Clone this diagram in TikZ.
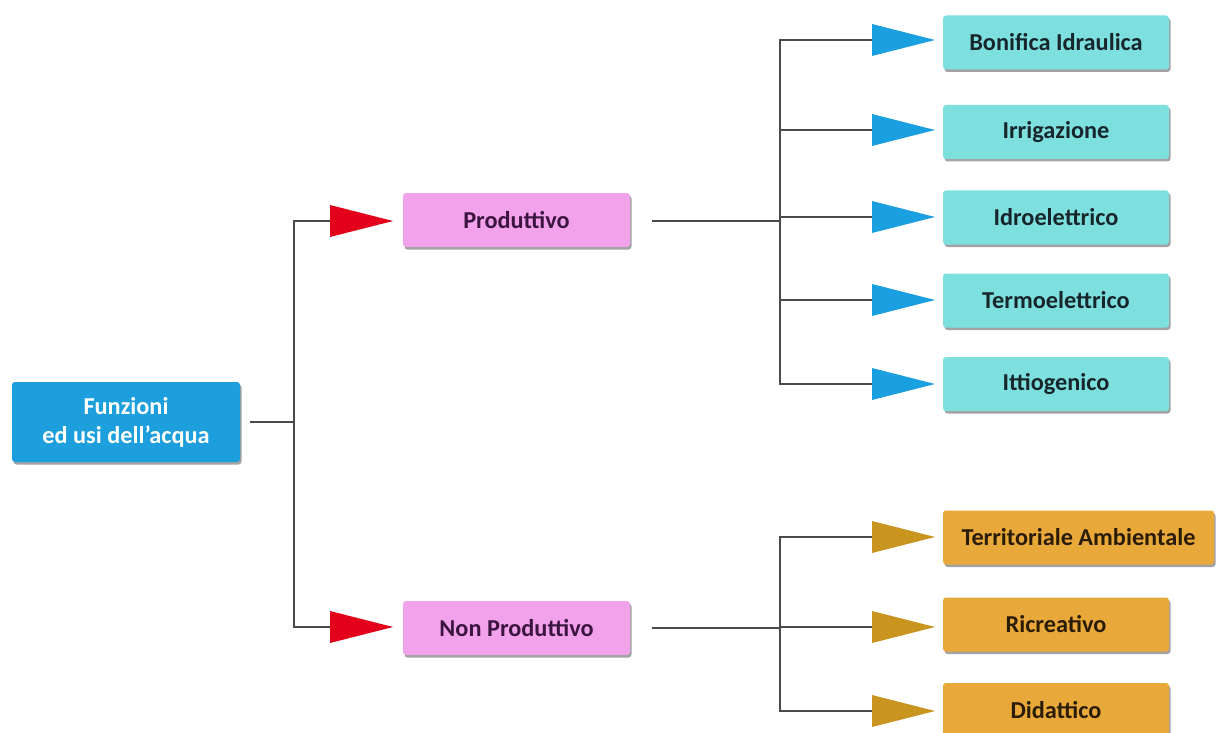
\documentclass[tikz,border=0pt]{standalone}
\usepackage{fontspec}
\setmainfont{Carlito}
\usetikzlibrary{shadows}
\definecolor{rootc}{HTML}{1C9FDC}
\definecolor{pinkc}{HTML}{F2A2EA}
\definecolor{cyanc}{HTML}{7EDFDF}
\definecolor{orangec}{HTML}{E9A93A}
\definecolor{redt}{HTML}{E2001A}
\definecolor{bluet}{HTML}{1A9FE0}
\definecolor{goldt}{HTML}{C9951F}
\definecolor{linec}{HTML}{4A4A4A}
\definecolor{pinktxt}{HTML}{3B1540}
\definecolor{cyantxt}{HTML}{17262B}
\definecolor{orangetxt}{HTML}{2B1C05}
\newcommand\mytri[2]{\fill[#1] (#2) ++(0,-16) -- ++(63,16) -- ++(-63,16) -- cycle;}
\begin{document}
\begin{tikzpicture}[x=1pt,y=-1pt,
  box/.style={rounded corners=3pt, inner sep=0pt, align=center,
    font=\fontsize{24.3}{29}\selectfont\bfseries,
    drop shadow={shadow xshift=1.5pt, shadow yshift=-2.5pt, fill=black!45, opacity=0.8}},
  rootbox/.style={box, fill=rootc, text=white, minimum width=228pt, minimum height=80pt},
  pinkbox/.style={box, fill=pinkc, text=pinktxt, minimum width=227pt, minimum height=54pt},
  cyanbox/.style={box, fill=cyanc, text=cyantxt, minimum width=226pt, minimum height=54pt},
  orangebox/.style={box, fill=orangec, text=orangetxt, minimum width=226pt, minimum height=54pt},
  conn/.style={draw=linec, line width=1.1pt}]
\useasboundingbox (0,0) rectangle (1216,733);
\fill[white] (0,0) rectangle (1216,733);

% nodes
\node[rootbox] (root) at (126,422) {Funzioni\\ed usi dell’acqua};
\node[pinkbox] (prod) at (516.5,220) {Produttivo};
\node[pinkbox] (nprod) at (516.5,628) {Non Produttivo};
\node[cyanbox] (c1) at (1056,42.5) {Bonifica Idraulica};
\node[cyanbox] (c2) at (1056,132) {Irrigazione};
\node[cyanbox] (c3) at (1056,217.5) {Idroelettrico};
\node[cyanbox] (c4) at (1056,300.5) {Termoelettrico};
\node[cyanbox] (c5) at (1056,384) {Ittiogenico};
\node[orangebox, minimum width=271pt] (o1) at (1078.5,537.5) {Territoriale Ambientale};
\node[orangebox] (o2) at (1056,624.5) {Ricreativo};
\node[orangebox] (o3) at (1056,710) {Didattico};

% junctions and triangle bases
\coordinate (j0) at (294,422);
\coordinate (jp) at (780,221);
\coordinate (jn) at (780,628);
\coordinate (tp) at (330,221);
\coordinate (tn) at (330,627);
\coordinate (t1) at (872,40);
\coordinate (t2) at (872,130);
\coordinate (t3) at (872,217);
\coordinate (t4) at (872,300);
\coordinate (t5) at (872,384);
\coordinate (u1) at (872,537);
\coordinate (u2) at (872,627);
\coordinate (u3) at (872,711);

% connectors
\draw[conn, shorten <=10pt] (root.east) -- (j0);
\draw[conn] (j0) |- (tp);
\draw[conn] (j0) |- (tn);
\draw[conn, shorten <=22pt] (prod.east |- jp) -- (jp);
\foreach \t in {t1,t2,t3,t4,t5} \draw[conn] (jp) |- (\t);
\draw[conn, shorten <=22pt] (nprod.east |- jn) -- (jn);
\foreach \t in {u1,u2,u3} \draw[conn] (jn) |- (\t);

% arrow triangles
\mytri{redt}{tp}
\mytri{redt}{tn}
\foreach \t in {t1,t2,t3,t4,t5} {\mytri{bluet}{\t}}
\foreach \t in {u1,u2,u3} {\mytri{goldt}{\t}}
\end{tikzpicture}
\end{document}
